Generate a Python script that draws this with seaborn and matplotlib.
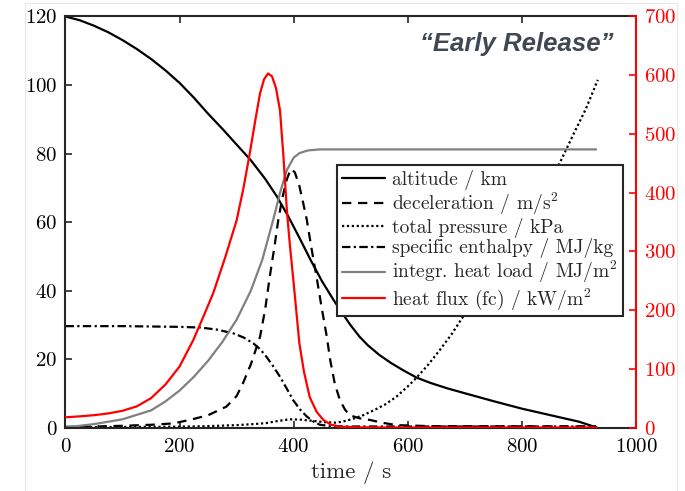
import matplotlib
matplotlib.use("Agg")
import matplotlib.pyplot as plt
import seaborn as sns
import pandas as pd
from matplotlib.patches import Rectangle
from matplotlib.lines import Line2D

# ---------------- data ----------------
alt_t = [0, 25, 50, 75, 100, 125, 150, 175, 200, 225, 250, 275, 300, 325, 350, 370,
         390, 410, 430, 450, 470, 485, 500, 515, 530, 550, 570, 590, 615, 640, 670,
         700, 750, 800, 850, 900, 931]
alt_v = [120, 118.9, 117.3, 115.4, 113.1, 110.5, 107.6, 104.3, 100.6, 96.3, 91.6,
         87.2, 82.6, 78.0, 72.6, 67.6, 61.8, 55.4, 48.8, 42.6, 37.2, 33.4, 29.8, 26.6,
         24.0, 21.2, 18.9, 16.9, 14.6, 13.0, 11.4, 10.0, 7.7, 5.5, 3.6, 1.7, 0]

dec_t = [0, 50, 100, 150, 189, 220, 250, 282, 300, 311, 325, 341, 350, 358, 366, 373,
         380, 388, 395, 402, 410, 416, 423, 431, 440, 449, 458, 464, 472, 481, 490,
         498, 515, 534, 555, 580, 640, 930]
dec_v = [0.2, 0.3, 0.5, 0.8, 1.2, 2.3, 3.6, 6.1, 9.2, 12.9, 18.5, 26.5, 34.5, 44, 52.5,
         60.6, 67, 72.5, 75.5, 74.5, 70.5, 66, 60.6, 52.5, 44, 35, 26.5, 19.7, 12.8, 8,
         5.2, 3.6, 2.7, 2.2, 1.4, 0.7, 0.4, 0.3]

prs_t = [0, 100, 200, 250, 300, 330, 352, 372, 393, 412, 430, 452, 475, 490, 505, 522,
         540, 560, 580, 600, 615, 635, 656, 677, 697, 720, 750, 780, 810, 840, 866,
         890, 912, 933]
prs_v = [0.1, 0.15, 0.25, 0.4, 0.7, 1.0, 1.3, 1.9, 2.4, 2.3, 2.0, 1.6, 1.4, 1.9, 2.6,
         3.6, 5.0, 6.7, 9.0, 12.0, 14.5, 18.2, 22.6, 27.3, 32.4, 38.0, 45.6, 53.5,
         61.8, 70.0, 77.1, 85.5, 93.0, 101.5]

ent_t = [0, 100, 195, 236, 265, 294, 312, 329, 341, 352, 364, 376, 388, 399, 411, 423,
         434, 446, 465, 500, 930]
ent_v = [29.6, 29.6, 29.4, 29.2, 28.6, 27.5, 26.3, 24.6, 22.9, 20.7, 17.9, 14.8, 11.3,
         8.0, 5.3, 3.2, 1.8, 0.8, 0.4, 0.3, 0.3]

hl_t = [0, 50, 100, 150, 175, 200, 225, 250, 275, 300, 325, 345, 364, 376, 388, 400,
        410, 425, 446, 930]
hl_v = [0, 1.0, 2.4, 5.0, 7.6, 10.8, 14.8, 19.5, 25.0, 31.5, 40.0, 49.0, 60.6, 68.5,
        75.2, 78.8, 80.1, 80.9, 81.2, 81.2]

hf_t = [0, 25, 50, 75, 100, 125, 150, 175, 200, 224, 240, 259, 280, 300, 312, 323,
        333, 341, 348, 355, 362, 369, 376, 382, 388, 393, 400, 410, 418, 428, 440,
        452, 465, 481, 510, 560, 931]
hf_v = [17.4, 19, 21, 24, 28.5, 36, 50, 73, 104, 149, 185, 229, 290, 353, 408, 467,
        525, 569, 593, 603, 598, 578, 540, 462, 370, 314, 245, 143, 95, 52, 27, 12.8,
        5, 1.4, 0.4, 0, 0]

labels = ["altitude / km", "deceleration / m/s$^2$", "total pressure / kPa",
          "specific enthalpy / MJ/kg", "integr. heat load / MJ/m$^2$",
          "heat flux (fc) / kW/m$^2$"]
x_ticks = [0, 200, 400, 600, 800, 1000]
yl_ticks = [0, 20, 40, 60, 80, 100, 120]
yr_ticks = [0, 100, 200, 300, 400, 500, 600, 700]
title_text = "\u201cEarly Release\u201d"

# ---------------- style ----------------
sns.set_style("ticks")
plt.rcParams["font.family"] = ["cmr10", "DejaVu Serif"]
plt.rcParams["mathtext.fontset"] = "cm"
plt.rcParams["axes.unicode_minus"] = False
plt.rcParams["axes.formatter.use_mathtext"] = True

fig = plt.figure(figsize=(6.85, 4.91), dpi=100)
ax = fig.add_axes([0.0956, 0.1293, 0.8329, 0.8371])
ax2 = ax.twinx()

LW = 1.6
series = [
    (ax, alt_t, alt_v, "black", "-"),
    (ax, dec_t, dec_v, "black", (0, (4.2, 3.0))),
    (ax, prs_t, prs_v, "black", (0, (1.0, 1.2))),
    (ax, ent_t, ent_v, "black", (0, (3.8, 1.5, 1.0, 1.5))),
    (ax, hl_t, hl_v, "#808080", "-"),
    (ax2, hf_t, hf_v, "#ff0000", "-"),
]
handles = []
for a, t, v, col, ls in series:
    df = pd.DataFrame({"t": t, "v": v})
    sns.lineplot(data=df, x="t", y="v", ax=a, color=col, linewidth=LW,
                 estimator=None, sort=False, legend=False)
    ln = a.lines[-1]
    ln.set_linestyle(ls)
    ln.set_solid_joinstyle("round")
    handles.append(Line2D([], [], color=col, lw=LW, linestyle=ls))

ax.set_xlim(0, 1000)
ax.set_ylim(0, 120)
ax2.set_ylim(0, 700)
ax.set_xticks(x_ticks)
ax.set_yticks(yl_ticks)
ax2.set_yticks(yr_ticks)
ax.set_xlabel("time / s", fontsize=16.5, labelpad=4)
ax.set_ylabel("")
ax2.set_ylabel("")

dark = "#262626"
for s in ["left", "top", "bottom"]:
    ax.spines[s].set_color(dark)
    ax.spines[s].set_linewidth(1.5)
    ax.spines[s].set_visible(True)
ax.spines["right"].set_visible(False)
ax2.spines["left"].set_visible(False)
ax2.spines["top"].set_visible(False)
ax2.spines["bottom"].set_visible(False)
ax2.spines["right"].set_visible(True)
ax2.spines["right"].set_color("#ff0000")
ax2.spines["right"].set_linewidth(1.5)

ax.tick_params(axis="both", direction="in", length=5, width=1.2, color=dark,
               labelsize=15, labelcolor="black", pad=6)
ax.tick_params(axis="x", top=True, bottom=True, pad=7.5)
ax.tick_params(axis="y", left=True, right=False)
ax2.tick_params(axis="y", direction="in", length=5, width=1.2, colors="#ff0000",
                labelsize=15, pad=6)

leg = ax2.legend(handles, labels, loc="upper left", bbox_to_anchor=(0.4754, 0.6387),
                 borderaxespad=0, fontsize=14, frameon=True, fancybox=False,
                 framealpha=1, edgecolor=dark, handlelength=2.25,
                 handletextpad=0.35, labelspacing=0.04, borderpad=0.25)
leg.get_frame().set_linewidth(1.5)
leg.set_zorder(10)

ax2.text(0.791, 0.932, title_text, transform=ax.transAxes, ha="center", va="center",
         fontsize=18.5, fontweight="bold", fontstyle="italic",
         family=["Liberation Sans", "DejaVu Sans"], color="#404852", zorder=11)

# faint outer frame
fig.patches.append(Rectangle((25 / 685, -0.05), (677 - 25) / 685, 1.05 - 3 / 491,
                             transform=fig.transFigure, fill=False,
                             edgecolor="#e8e8e8", lw=0.8, zorder=0))

fig.savefig("out.png", dpi=100)
